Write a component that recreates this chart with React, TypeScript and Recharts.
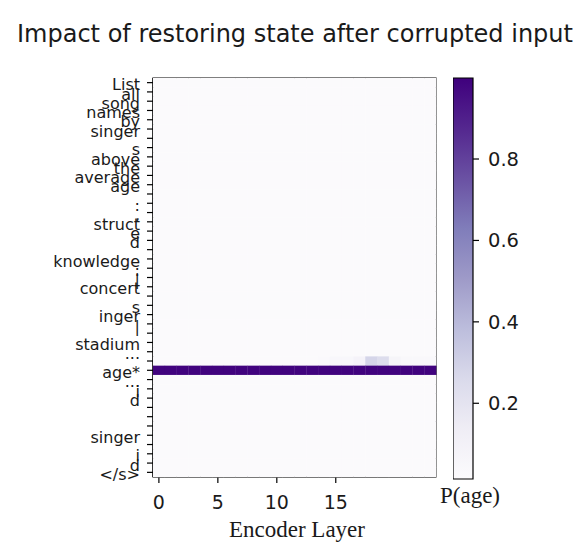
import { ScatterChart, Scatter, XAxis, YAxis, ReferenceArea, BarChart, Bar } from "recharts";

// token rows, top to bottom (blank = label not legible in the source)
const TOKENS = [
  "List", "all", "song", "names", "by", "singer", "", "s", "above", "the",
  "average", "age", "", ":", ",", "struct", "e", "d", "", "knowledge",
  ":", "|", "concert", "", "s", "inger", "|", "", "stadium", "...",
  "", "age*", "...", "i", "d", "", "", "", "singer", "",
  "i", "d", "</s>",
];
const LAYERS = [0, 1, 2, 3, 4, 5, 6, 7, 8, 9, 10, 11, 12, 13, 14, 15, 16, 17, 18, 19, 20, 21, 22, 23];
const X_TICKS = [0, 5, 10, 15];
const CBAR_TICKS = [0.2, 0.4, 0.6, 0.8];
const P_MIN = 0.014;
const P_MAX = 0.999;

// almost every restored state leaves P(age) near the floor
const BACKGROUND_P = 0.025;
const AGE_STAR_ROW = 31;
const AGE_STAR_P = [
  0.99, 0.99, 0.99, 0.99, 0.99, 0.99, 0.99, 0.99, 0.99, 0.99, 0.99, 0.99,
  0.99, 0.99, 0.99, 0.99, 0.99, 0.99, 0.99, 0.99, 0.99, 0.99, 0.99, 0.99,
];
const PRE_ROW = 30;
const PRE_ROW_P = [
  0.025, 0.025, 0.025, 0.025, 0.025, 0.025, 0.025, 0.025, 0.025, 0.025, 0.025, 0.025,
  0.025, 0.025, 0.03, 0.05, 0.05, 0.08, 0.28, 0.24, 0.07, 0.04, 0.04, 0.04,
];

const PURPLES = ["#fcfbfd", "#efedf5", "#dadaeb", "#bcbddc", "#9e9ac8", "#807dba", "#6a51a3", "#54278f", "#3f007d"];

const hex = (c: string) => [1, 3, 5].map((i) => parseInt(c.slice(i, i + 2), 16));
function purples(p: number) {
  const t = Math.min(1, Math.max(0, (p - P_MIN) / (P_MAX - P_MIN))) * (PURPLES.length - 1);
  const i = Math.min(PURPLES.length - 2, Math.floor(t));
  const f = t - i;
  const a = hex(PURPLES[i]), b = hex(PURPLES[i + 1]);
  const m = a.map((v, k) => Math.round(v + (b[k] - v) * f));
  return `rgb(${m[0]},${m[1]},${m[2]})`;
}

const cells = TOKENS.flatMap((_, row) =>
  LAYERS.map((layer) => ({
    layer,
    row,
    p: row === AGE_STAR_ROW ? AGE_STAR_P[layer] : row === PRE_ROW ? PRE_ROW_P[layer] : BACKGROUND_P,
  }))
);

const W = 587, H = 551;
const PLOT = { left: 153, right: 436, top: 78, bottom: 477 };
const CW = (PLOT.right - PLOT.left) / LAYERS.length;
const CH = (PLOT.bottom - PLOT.top) / TOKENS.length;
const SANS = "DejaVu Sans";
const SERIF = "Liberation Serif";
const INK = "#1a1a1a";

const HeatCell = (props: any) => {
  const { cx, cy, payload } = props;
  return <rect x={cx - CW / 2} y={cy - CH / 2} width={CW + 0.3} height={CH + 0.3} fill={purples(payload.p)} />;
};

const YTick = (props: any) => {
  const { x, y, payload } = props;
  return (
    <text x={x} y={y} dy="0.48em" textAnchor="end" fontSize={16} fontFamily={SANS} fill={INK}>
      {TOKENS[payload.value]}
    </text>
  );
};

const XTick = (props: any) => {
  const { x, y, payload } = props;
  return (
    <text x={x} y={y} dy="0.72em" textAnchor="middle" fontSize={19} fontFamily={SANS} fill={INK}>
      {payload.value}
    </text>
  );
};

const CbarTick = (props: any) => {
  const { x, y, payload } = props;
  return (
    <text x={x} y={y} dy="0.36em" textAnchor="start" fontSize={19.5} fontFamily={SANS} fill={INK}>
      {payload.value.toFixed(1)}
    </text>
  );
};

const CBAR_DATA = [{ name: "P(age)", lo: P_MIN, hi: P_MAX }];

export default function App() {
  return (
    <div style={{ position: "absolute", left: 0, top: 0, width: W, height: H, background: "#fff" }}>
      <svg width={0} height={0} style={{ position: "absolute" }}>
        <defs>
          {/* top of the bar = darkest, offsets must increase */}
          <linearGradient id="cbarGrad" x1="0" y1="0" x2="0" y2="1">
            {PURPLES.map((_, k) => (
              <stop key={k} offset={k / (PURPLES.length - 1)} stopColor={PURPLES[PURPLES.length - 1 - k]} />
            ))}
          </linearGradient>
        </defs>
      </svg>
      <div style={{ position: "absolute", left: 0, top: 0 }}>
        <ScatterChart width={W} height={H} margin={{ top: PLOT.top, right: W - PLOT.right, bottom: 0, left: 0 }}>
          <XAxis type="number" dataKey="layer" domain={[-0.5, 23.5]} ticks={X_TICKS} interval={0}
            height={H - PLOT.bottom} tickSize={6} tickMargin={12} tick={<XTick />}
            axisLine={{ stroke: "#000" }} tickLine={{ stroke: "#000", strokeWidth: 1.2 }} />
          <YAxis type="number" dataKey="row" domain={[-0.5, TOKENS.length - 0.5]} reversed
            ticks={TOKENS.map((_, i) => i)} interval={0} width={PLOT.left} tickSize={6} tickMargin={7}
            tick={<YTick />} axisLine={{ stroke: "#000" }} tickLine={{ stroke: "#000", strokeWidth: 1.2 }} />
          <Scatter data={cells} shape={<HeatCell />} isAnimationActive={false} />
          <ReferenceArea x1={-0.5} x2={23.5} y1={-0.5} y2={TOKENS.length - 0.5}
            fill="none" fillOpacity={0} stroke="#000" strokeWidth={1.2} />
        </ScatterChart>
      </div>
      <div style={{ position: "absolute", left: 453, top: 0 }}>
        <BarChart width={W - 453} height={H} data={CBAR_DATA} barCategoryGap={0}
          margin={{ top: 78, right: 0, bottom: 72, left: 0 }}>
          <XAxis dataKey="name" hide />
          <YAxis orientation="right" type="number" domain={[P_MIN, P_MAX]} ticks={CBAR_TICKS}
            width={W - 453 - 20} tickSize={6} tickMargin={9} tick={<CbarTick />}
            axisLine={false} tickLine={{ stroke: "#000", strokeWidth: 1.2 }} />
          <Bar dataKey={(d: any) => [d.lo, d.hi]} fill="url(#cbarGrad)" stroke="#000" strokeWidth={1.2}
            isAnimationActive={false} />
        </BarChart>
      </div>
      <svg width={W} height={H} style={{ position: "absolute", left: 0, top: 0, pointerEvents: "none" }}>
        <text x={295} y={42} textAnchor="middle" fontSize={24} fontFamily={SANS} fill={INK}>
          Impact of restoring state after corrupted input
        </text>
        <text x={297} y={537} textAnchor="middle" fontSize={23} fontFamily={SERIF} fill={INK}>
          Encoder Layer
        </text>
        <text x={470} y={503} textAnchor="middle" fontSize={23} fontFamily={SERIF} fill={INK}>
          P(age)
        </text>
      </svg>
    </div>
  );
}
